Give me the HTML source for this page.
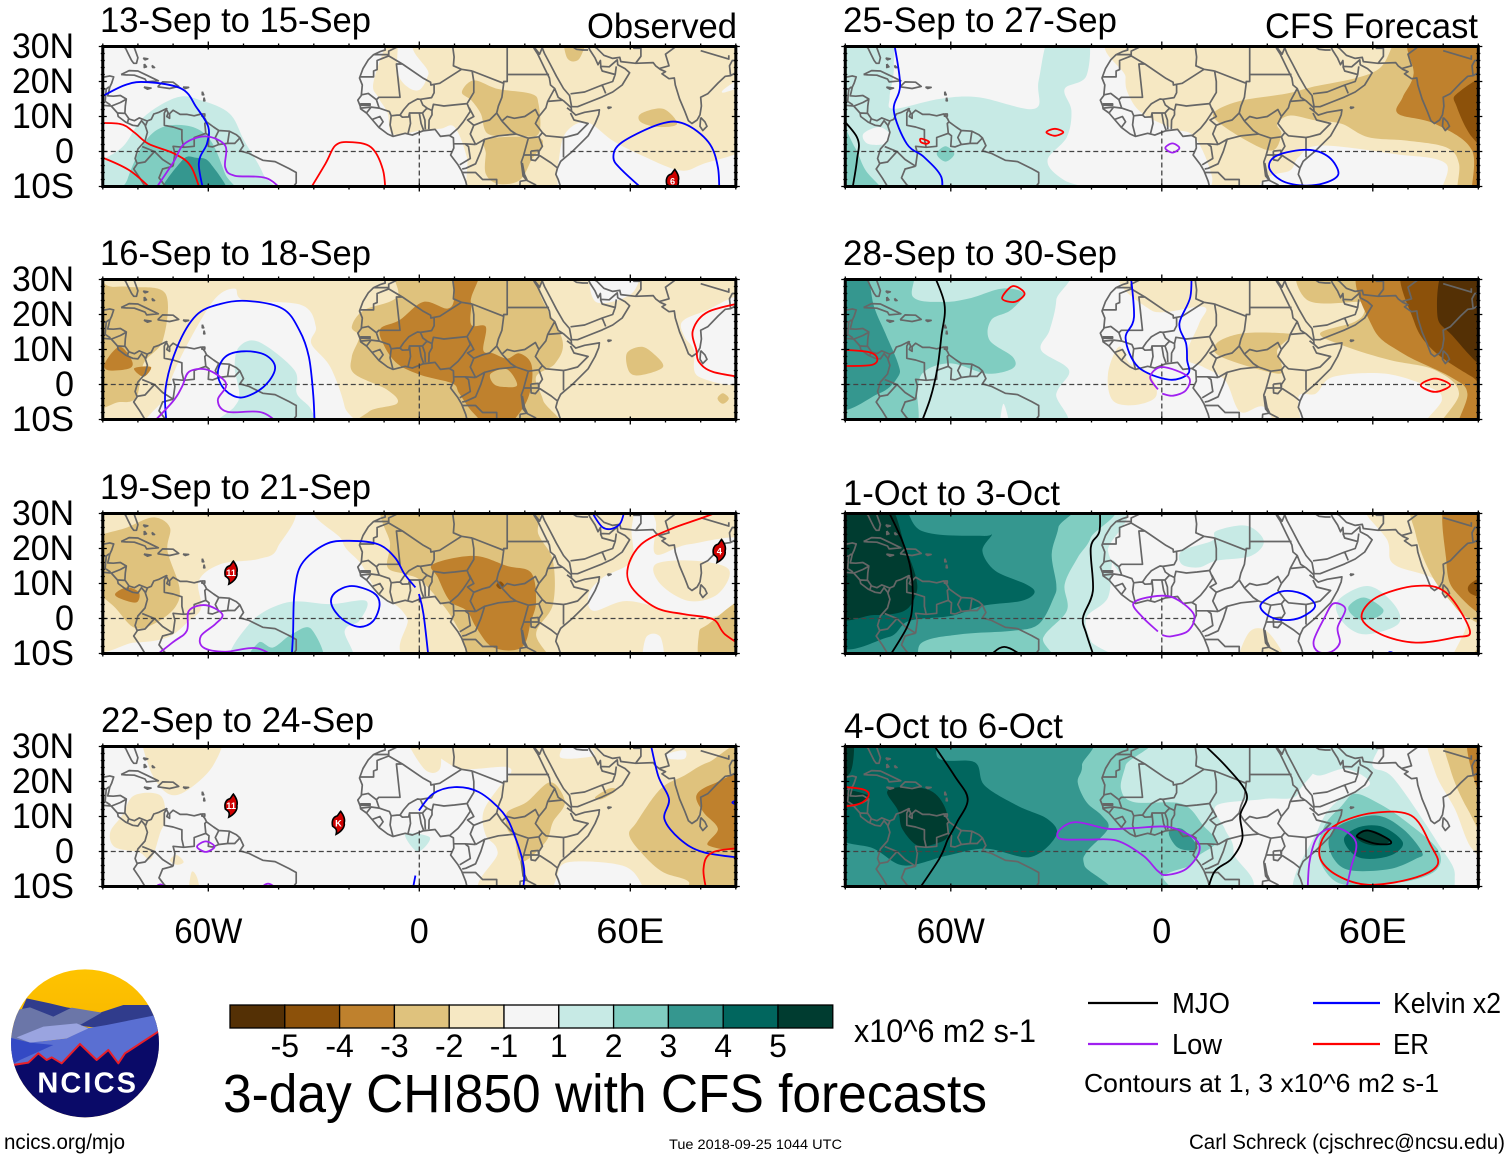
<!DOCTYPE html>
<html lang="en">
<head>
<meta charset="utf-8">
<title>3-day CHI850 with CFS forecasts</title>
<style>
html,body{margin:0;padding:0;background:#fff;width:1510px;height:1159px;overflow:hidden}
svg{display:block;position:absolute;left:0;top:0}
text{font-family:"Liberation Sans",sans-serif;fill:#000}
</style>
</head>
<body>
<svg id="chart" xmlns="http://www.w3.org/2000/svg" width="1510" height="1159" viewBox="0 0 1510 1159">
  <defs id="defs">
    <linearGradient id="sky" x1="0" y1="0" x2="0" y2="1"><stop offset="0" stop-color="#ffc400"/><stop offset="1" stop-color="#eda500"/></linearGradient>
    <clipPath id="logo-clip"><circle cx="255" cy="250" r="222"/></clipPath>
  </defs>

  <g id="panels"></g>

  <g font-size="35">
    <text x="100" y="32" textLength="271" lengthAdjust="spacingAndGlyphs">13-Sep to 15-Sep</text>
    <text x="100" y="265" textLength="271" lengthAdjust="spacingAndGlyphs">16-Sep to 18-Sep</text>
    <text x="100" y="499" textLength="271" lengthAdjust="spacingAndGlyphs">19-Sep to 21-Sep</text>
    <text x="101" y="732" textLength="273" lengthAdjust="spacingAndGlyphs">22-Sep to 24-Sep</text>
    <text x="843" y="32" textLength="274" lengthAdjust="spacingAndGlyphs">25-Sep to 27-Sep</text>
    <text x="843" y="265" textLength="274" lengthAdjust="spacingAndGlyphs">28-Sep to 30-Sep</text>
    <text x="843" y="505" textLength="217" lengthAdjust="spacingAndGlyphs">1-Oct to 3-Oct</text>
    <text x="844" y="738" textLength="219" lengthAdjust="spacingAndGlyphs">4-Oct to 6-Oct</text>
    <text x="587" y="38" textLength="150" lengthAdjust="spacingAndGlyphs">Observed</text>
    <text x="1265" y="38" textLength="213" lengthAdjust="spacingAndGlyphs">CFS Forecast</text>
  </g>

  <g id="colorbar"></g>
  <text x="854" y="1042" font-size="32" textLength="182" lengthAdjust="spacingAndGlyphs">x10^6 m2 s-1</text>
  <text x="223" y="1112" font-size="54" textLength="764" lengthAdjust="spacingAndGlyphs">3-day CHI850 with CFS forecasts</text>
  <text x="669" y="1149" font-size="14" textLength="173" lengthAdjust="spacingAndGlyphs">Tue 2018-09-25 1044 UTC</text>
  <text x="4" y="1149" font-size="21" textLength="121" lengthAdjust="spacingAndGlyphs">ncics.org/mjo</text>
  <text x="1189" y="1149" font-size="21" textLength="316" lengthAdjust="spacingAndGlyphs">Carl Schreck (cjschrec@ncsu.edu)</text>

  <g>
    <line x1="1088" x2="1158" y1="1003" y2="1003" stroke="#000" stroke-width="2.2"/>
    <text x="1172" y="1013" font-size="29" textLength="58" lengthAdjust="spacingAndGlyphs">MJO</text>
    <line x1="1088" x2="1158" y1="1044" y2="1044" stroke="#a020f0" stroke-width="2.2"/>
    <text x="1172" y="1054" font-size="29" textLength="50" lengthAdjust="spacingAndGlyphs">Low</text>
    <line x1="1313" x2="1380" y1="1003" y2="1003" stroke="#0000ff" stroke-width="2.2"/>
    <text x="1393" y="1013" font-size="29" textLength="108" lengthAdjust="spacingAndGlyphs">Kelvin x2</text>
    <line x1="1313" x2="1380" y1="1044" y2="1044" stroke="#ff0000" stroke-width="2.2"/>
    <text x="1393" y="1054" font-size="29" textLength="36" lengthAdjust="spacingAndGlyphs">ER</text>
    <text x="1084" y="1092" font-size="26" textLength="355" lengthAdjust="spacingAndGlyphs">Contours at 1, 3 x10^6 m2 s-1</text>
  </g>

  <g transform="translate(0,960) scale(0.3333)">
    <g clip-path="url(#logo-clip)">
      <rect x="20" y="20" width="480" height="460" fill="url(#sky)"/>
      <polygon points="80,115 150,130 200,142 300,158 370,135 450,135 480,220 260,200 60,160" fill="#303c8c"/>
      <polygon points="30,240 50,150 90,142 160,170 215,143 305,158 240,195 270,205 100,250" fill="#6b76a8"/>
      <polygon points="30,232 90,248 200,235 260,205 320,195 470,165 490,320 30,330" fill="#5a6fd2"/>
      <polygon points="50,232 130,200 230,190 265,205 200,235 90,248" fill="#9aa4e0"/>
      <polygon points="25,232 90,248 160,255 60,300 25,320" fill="#3349c4"/>
      <path d="M20,318 L85,308 L115,280 L140,300 L155,292 L185,310 L240,252 L290,300 L325,270 L355,310 L375,280 L490,205 L490,480 L20,480 Z" fill="#0a0a68" stroke="#e8202a" stroke-width="6" stroke-linejoin="round"/>
    </g>
    <text x="112" y="398" font-size="87" font-weight="bold" textLength="296" lengthAdjust="spacing" style="fill:#fff">NCICS</text>
  </g>
</svg>

<script>
// ---- colour scale (shading bins from -5 to 5) ----
const palette = ['#543005','#8c510a','#bf812d','#dfc27d','#f6e8c3','#f5f5f5','#c7eae5','#80cdc1','#35978f','#01665e','#003c30'];
const colorbarLabels = ['-5','-4','-3','-2','-1','1','2','3','4','5'];
const lonTicks = [-60,0,60];
const lonTickLabels = ['60W','0','60E'];
const latTicks = [30,20,10,0,-10];
const latTickLabels = ['30N','20N','10N','0','10S'];
const contourColors = {mjo:'#000000',kelvin:'#0000ff',low:'#a020f0',er:'#ff0000'};

// ---- map geometry, [lon, lat] ----
const coastlines = [
 [[-81.4,30.7],[-80.6,28.5],[-80,26.8],[-80.4,25.2],[-81.2,25.2],[-81.8,26],[-82.8,28],[-83.5,29.5],[-84.2,30.1],[-85.5,29.8],[-87,30.4]],
 [[-90,21.2],[-88,21.6],[-86.9,21.3],[-87.5,19.5],[-88,18.4],[-88.3,17],[-88.6,15.9],[-87,15.8],[-85,16],[-83.3,15],[-83.6,13],[-83.7,11],[-82.5,9.3],[-81,8.8],[-79.6,9.6],[-77.4,8.7],[-76.2,9.2],[-75.5,10.7],[-74,11.2],[-72,12.2],[-71.4,11],[-71.8,10],[-71,9.5],[-71,10.8],[-70,11.8],[-68,10.6],[-66,10.6],[-64,10.2],[-62,10.7],[-61,9.5],[-60.5,8.5],[-58.5,7],[-57,6],[-54,5.8],[-52,4.8],[-51,3.9],[-50,1.7],[-51,0.2],[-48.5,-0.5],[-44.5,-2.5],[-41,-2.9],[-37,-4.9],[-35,-6],[-35,-9],[-36.5,-11]],
 [[-90,13.2],[-87.6,13],[-85.8,11],[-85.6,10],[-83.5,8.4],[-81.5,7.5],[-80,7.3],[-79,8.8],[-78,7.6],[-77.3,5.5],[-78,3],[-80,0.7],[-80.8,-2],[-80.2,-3.5],[-81.2,-5],[-79.5,-7.5],[-78,-10],[-77,-12]],
 [[-84.8,22],[-82.5,23.1],[-80,23],[-77.5,21.8],[-74.2,20.2],[-77.5,19.9],[-78,20.7],[-81,21.8],[-83.5,21.9],[-84.8,22]],
 [[-74.4,18.5],[-73,19.9],[-70,19.8],[-68.4,18.6],[-71,18],[-74.4,18.5]],
 [[-78.3,18.4],[-76.3,18.1],[-77.3,17.8],[-78.3,18.4]],
 [[-67.2,18.4],[-65.6,18.3],[-66.5,18],[-67.2,18.4]],
 [[-78.5,26.7],[-77.2,26.5],[-78,26.2],[-78.5,26.7]],
 [[-78.2,25],[-77.6,24.2],[-78.2,24],[-78.2,25]],
 [[-76,24.6],[-75.3,24],[-75.8,24],[-76,24.6]],
 [[-61.7,17.1],[-61.3,16.2],[-61.7,16.2],[-61.7,17.1]],
 [[-61.2,15.4],[-61,14.5],[-61.3,14.5],[-61.2,15.4]],
 [[-61.8,10.7],[-61,10.7],[-61,10.1],[-61.8,10.1],[-61.8,10.7]],
 [[-9.8,30],[-9.7,29],[-11,28.6],[-13,27.7],[-14.5,26.2],[-16,23.7],[-17,21],[-16.2,19],[-16.5,16],[-17.5,14.7],[-16.8,13],[-16.7,12.2],[-15,11],[-13.3,9],[-11.5,6.9],[-9,5],[-7.5,4.3],[-4,5.2],[-2,4.7],[1,5.9],[4.5,6.3],[6,4.3],[8.5,4.6],[9.7,3.9],[9.8,1],[8.9,-1],[11,-3.8],[12,-5.5],[13.2,-8.5],[13.8,-11]],
 [[32.5,30.5],[32.6,29.5],[33.7,27.8],[35.5,24],[37,21],[37.3,19],[38.5,18],[39.5,15.5],[41,14.5],[43.2,12.5],[43.3,11.5],[44.5,10.4],[47,11.2],[51.2,11.9],[51,10.5],[50,8],[48,4.5],[46,2.5],[43.5,0],[41.5,-1.7],[40.2,-2.8],[39.3,-4.7],[38.8,-6.5],[39.5,-8],[40.5,-11]],
 [[32.6,29.9],[34.2,27.8],[34.9,29.5],[35,29.5],[35.6,28],[37.2,25],[39,21.5],[41,18],[42.7,16],[43.3,12.8],[45,12.8],[48,14],[52,15.6],[55,17],[57.7,19],[59.8,22.5],[58.5,23.7],[56.4,24.8],[56.3,26.2],[54,24.2],[51.6,24.3],[51.5,26],[50.8,24.8],[50,26.7],[48.5,29],[48,30.2],[49,30.3],[50.5,29.5],[52.5,27.5],[55,26.6],[57,26.9],[57.3,25.7],[61.5,25.2],[66.5,25.4],[67.2,24.5],[68.5,23.5],[70,22.8],[69,22.2],[71,20.8],[72.5,21],[72.8,19],[74,15],[75.5,11.5],[76.5,8.8],[77.5,8],[79,9],[79.8,10.5],[80.2,13],[80,15.5],[82,16.5],[85,19.6],[87,21.5],[88.5,21.7],[90,22.5],[91,23]],
 [[80,9.7],[81.2,8.5],[81.8,7.2],[80.6,6],[79.8,7.2],[80,9.7]],
 [[53.5,12.7],[54.5,12.6],[53.8,12.3],[53.5,12.7]],
 [[31.7,0.1],[33.8,0.3],[34,-1.4],[33,-2.6],[31.8,-2.4],[31.7,0.1]],
 [[29.3,-3.3],[29.7,-6.8],[30.7,-8.3],[29.9,-6.5],[29.3,-3.3]]
];
const borders = [
 [[-8.7,27.7],[-8.7,28.7],[-6,30],[-5,30.5]],
 [[-13,27.7],[-8.7,27.7],[-8.7,27.3],[-12,26],[-12,23.4],[-13,23],[-13,21.3],[-17,21.3]],
 [[-8.7,27.3],[-4.8,25],[-6.5,25],[-5.5,15.5],[-11.5,15.5],[-12.2,14.8],[-14.5,16.6],[-16.4,16.2]],
 [[-4.8,25],[1.2,20.9],[3.2,19.8],[3.3,19],[4.2,19.2],[5.8,19.5],[12,23.5]],
 [[9.5,30],[9.9,27],[9.7,24.5],[12,23.5],[15,23]],
 [[15,23],[15.5,20],[15.5,16.9],[13.6,13.7]],
 [[15,23],[24,19.5],[24,20],[25,20],[25,22],[25,31]],
 [[25,22],[36.9,22]],
 [[4.2,19.2],[4.2,16.8],[3.5,15.4],[0.3,14.9],[-0.5,15],[-2,14.2],[-3,13.6],[-4.4,12],[-5.5,10.4],[-4.8,9.8],[-3,9.9],[-2.8,11],[0,11],[0.9,11],[2.2,12.4],[1,13.3],[0.3,14.9]],
 [[-12.2,14.8],[-11.4,12.4],[-8.5,11.4],[-8,10.2],[-6.3,10.4],[-5.5,10.4]],
 [[-16.7,12.4],[-13.7,12.7],[-11.4,12.4]],
 [[-16.8,13.6],[-14,13.6],[-14,13.2],[-16.8,13.2]],
 [[-13.7,12.7],[-15,11]],
 [[-13.3,9.2],[-11.2,10],[-10.3,8.5],[-11.5,6.9]],
 [[-8,10.2],[-8.3,7.6],[-7.5,4.4]],
 [[-2.8,11],[-2.5,8],[-3.2,5.1]],
 [[0,11],[0.5,8],[1.2,6.1]],
 [[0.9,11],[1.6,9],[1.7,6.3]],
 [[2.7,6.4],[2.8,9],[3.6,10.5],[3.6,11.7],[2.2,12.4]],
 [[3.6,11.7],[4,13.5],[7,13],[10,13.3],[13.6,13.7]],
 [[13.6,13.7],[14.5,11.5],[12.5,8.5],[11,6.6],[8.8,4.7]],
 [[14.2,12.5],[15.5,10],[13.7,9],[15.5,7.5]],
 [[15.5,7.5],[18,8.5],[20,9],[22,11]],
 [[15.5,7.5],[14.5,5],[16,2]],
 [[24,19.5],[23.5,15.5],[22.5,13],[22,11],[23.5,8.7]],
 [[23.5,8.7],[26,6],[27.5,5]],
 [[18.6,3.5],[22.5,4.5],[27.5,5]],
 [[16,2],[18.6,3.5],[17.5,0],[16,-3.5],[13.2,-4.8],[12.2,-5]],
 [[9.8,2.2],[13,2.2],[16,2]],
 [[13,2.2],[14,1.4],[14.5,-2],[11.5,-3.8]],
 [[12.2,-6],[16,-6],[18,-8],[22,-8],[22,-11]],
 [[27.5,5],[31,3.8],[29.6,-1.3],[29,-3],[29.5,-7],[30.5,-8.2],[28.7,-8.5],[28.5,-11]],
 [[29.6,-1],[34,-1],[37.5,-3.3],[39.3,-4.7]],
 [[30.5,-8.2],[33,-9.5],[34.5,-11]],
 [[34,-1],[34,0],[35,1.5],[34,4.2],[31,3.8]],
 [[23.5,8.7],[25,10],[27,9.5],[30,10],[33,12],[34,10],[33,8],[35,5.4],[34,4.2]],
 [[34,10],[36,12.5],[36.5,14.3],[38.5,18]],
 [[36.5,14.3],[40.8,14.7]],
 [[35,5.4],[36,4.5],[41,4],[42,4.2]],
 [[41,4],[41,-1.7]],
 [[42,4.2],[45,5],[48,8],[44,9],[43,11]],
 [[42,12.5],[43.3,11.5]],
 [[48,29],[46.5,29],[44.7,29.2],[42,31]],
 [[43,16.5],[47,17],[52,19],[55,20],[55.7,22],[52,23],[51.5,24.3]],
 [[52,19],[53,16.6]],
 [[56,24.3],[55.7,22]],
 [[61.5,25.2],[63,27.2],[63,29.5],[61,29.5],[60.8,31]],
 [[60.8,29.8],[66.5,29.9],[68,31]],
 [[68.2,23.7],[71,24.5],[70,27.8],[73,30],[74,31]],
 [[80,28.8],[88,26.4],[88,27.5]],
 [[88.5,21.7],[88.2,24.5],[89,26],[91,26]],
 [[-90,17.8],[-89,17.9],[-88.2,18.5]],
 [[-89,17.9],[-89.2,15.9],[-89.3,14.3],[-87.8,13.3]],
 [[-87.5,13],[-85,14],[-83.2,15]],
 [[-85.7,11],[-83.7,10.9]],
 [[-83,8.2],[-82.6,9.6]],
 [[-77.9,7.2],[-77.3,8.7]],
 [[-71.7,12.4],[-72.5,11],[-72.5,7.5],[-70,7],[-67.5,6.2],[-67.5,3.5],[-67,1.2],[-70,1.5],[-69.5,-0.5],[-70,-4.2]],
 [[-78.8,1.4],[-75.3,0],[-73,-2.3],[-70,-4.2]],
 [[-80.3,-3.4],[-78,-3],[-75.3,0]],
 [[-70,-4.2],[-73,-5],[-74,-7.5],[-72.5,-9.5],[-70.5,-11]],
 [[-67,1.2],[-64,1.5],[-64,4],[-60.7,5.2],[-61,8],[-60.5,8.5]],
 [[-60.7,5.2],[-59.8,4.5],[-60,1.5],[-58.8,1.3],[-57,2],[-58,4],[-57,6]],
 [[-57,2],[-54.5,2.3],[-52.5,2.3],[-51,3.9]],
 [[-54.5,2.3],[-54,5.8]],
 [[-70.5,-11],[-66,-9.8],[-65,-11]]
];

// ---- Panel: 13-Sep to 15-Sep ----
const sep13Background = 5;
const sep13Shading = [
 [4,[[5.3,30],[2.6,22],[-0.8,17.4],[-6,22],[-6,30],[-8,30],[-13,20],[-11.7,15.5],[-9,11],[-7.6,5],[0.5,6],[6,6.5],[10,7],[13.5,-1.6],[15.5,-10],[37,-10],[39.3,-4.5],[41.4,5],[47.5,8.4],[55,3.1],[63,-1],[74,-5.4],[80.8,-3.5],[90,2.2],[90,17.4],[86,17],[90,24],[90,30]]],
 [3,[[12.1,17],[15.5,20.3],[22.3,17.9],[31.8,16.5],[33.9,13.6],[33.9,5],[27.8,4.6],[19.6,5],[17.5,10.8],[14.8,14.6]]],
 [3,[[19.6,3.6],[34.6,3.6],[31.8,-2.6],[28.4,-8.3],[22.3,-9.2],[18.9,-6.4],[18.9,-0.7]]],
 [3,[[63,10.8],[69.3,12.2],[73.3,7.9],[67.9,7],[63,8.4]]],
 [3,[[41.4,30],[47.5,30],[45.5,26.5],[42,26.8]]],
 [6,[[-90,-10],[-90,-5.4],[-84.5,1.2],[-78.4,9.8],[-68.8,15.5],[-62,14.6],[-53.9,10.8],[-49.8,3.1],[-44.4,-6.4],[-43,-10]]],
 [7,[[-83.8,-10],[-83,-8],[-78.4,2.2],[-72.9,7],[-64.8,7.1],[-59.3,3.1],[-55.2,-6.4],[-52.5,-10]]],
 [8,[[-73.6,-10],[-67.5,-2.6],[-63.4,-1.8],[-59.3,-3.5],[-54.6,-10]]]
];
const sep13Contours = [
 ['kelvin',false,[[-90,13.6],[-83.9,18.9],[-77.1,19.8],[-67.5,17.9],[-63.4,12.7],[-60,7],[-60.4,2.2],[-62.7,-3.5],[-60.7,-10]]],
 ['kelvin',false,[[66.5,-9.4],[57.7,-5.4],[55.2,-1.6],[57.7,2.7],[68.6,7.9],[75.4,7.9],[82.2,2.7],[84.9,-4.5],[85.3,-9.7]]],
 ['er',false,[[-90,8.1],[-85.2,7.9],[-81.1,5.5],[-77,2.2],[-69.5,-0.7],[-64.8,-4.5],[-61.4,-10]]],
 ['er',false,[[-90,-0.2],[-82.4,-5.4],[-72.9,-10]]],
 ['er',false,[[-32.8,-9.7],[-26.7,-3.5],[-23.9,1.7],[-19.9,2.7],[-13.7,1.2],[-10.3,-5.4],[-9.5,-10]]],
 ['low',false,[[-77,-9.7],[-70.2,-3.5],[-66.8,2.2],[-60.7,4.3],[-55.2,1.7],[-55.2,-4.5],[-52.5,-6.9],[-43,-7.8],[-36.9,-9.7]]]
];
const sep13Storms = [[72,-8.4,'6']];

// ---- Panel: 16-Sep to 18-Sep ----
const sep16Background = 4;
const sep16Shading = [
 [5,[[-75,-10],[-72.2,-3.5],[-69.5,4.1],[-64.8,13.6],[-58,24.6],[-52.5,27.4],[-49.8,24.1],[-33.5,22.7],[-29.4,16.5],[-30.7,11.7],[-25.3,5],[-21.2,-6.4],[-21.2,-10]]],
 [5,[[74.7,17.9],[80.8,20.8],[90,24.6],[90,1.7],[79.5,2.2],[78.1,9.8],[75.4,13.6]]],
 [5,[[49.5,29.3],[61.8,29.6],[60.4,26],[50.2,23.6]]],
 [3,[[-90,30],[-89,28.4],[-82.4,27.9],[-72.2,26],[-72.9,12.7],[-78.4,6],[-80.4,-3.5],[-85.2,-5],[-90,-3.5]]],
 [3,[[-4.2,30],[-6.3,25],[-15.8,21.2],[-19.2,16.5],[-17.1,13.6],[-19.2,7.9],[-18.5,3.1],[-9,-1.6],[-6.3,-5.4],[-14.4,-7.8],[-15.8,-10],[37.3,-10],[35.2,-4.5],[33.2,2.2],[38.6,6],[40.7,12.7],[34.6,25],[31.8,30]]],
 [3,[[59,8.9],[63.1,10.8],[66.5,8.9],[69.3,5],[63.1,2.7],[59.7,3.6]]],
 [3,[[86.3,-2.5],[88,-4],[86.3,-5.5],[84.8,-4]]],
 [2,[[10,30],[17.6,30],[14.8,25],[14.8,22.7],[14.8,17],[18.9,16.5],[18.2,9.8],[21,8.9],[25,7.4],[28.4,8.9],[31.8,6],[31.8,-0.7],[29.1,-7.3],[22.3,-9.7],[15.5,-8.3],[11.4,-2.6],[9.4,0.3],[0.5,2.7],[-6.3,6],[-10.3,11.7],[-11,16],[-5.6,18.4],[1.2,23.6],[8,21.7],[10,25]]],
 [3,[[20.3,3.1],[25,4.3],[27.8,-0.2],[23.7,-0.7],[21,0.3]]],
 [2,[[-89.2,6.5],[-85.2,10.8],[-81.8,7],[-82.4,4.6],[-88.6,4.1]]],
 [2,[[-81.1,4.6],[-76.3,5],[-78.4,2.2]]],
 [6,[[-51.2,10.8],[-45.7,12.2],[-35.5,4.1],[-34.8,-2.6],[-30.7,-7.3],[-30.7,-10],[-59.3,-10],[-52.6,-6.4],[-51.2,-2.6],[-52.5,5]]]
];
const sep16Contours = [
 ['kelvin',false,[[-71.6,-9.7],[-72.2,-1.6],[-68.8,10.8],[-63.4,19.8],[-56.6,23],[-49.1,23.9],[-38.9,21.7],[-34.1,15.5],[-31.4,7.9],[-30.1,-3.5],[-29.7,-9.7]]],
 ['kelvin',true,[[-49.8,9.5],[-43.7,8.4],[-41,4.6],[-44.3,-0.7],[-50.5,-3.7],[-55.2,-1.6],[-57.3,3.1],[-55.2,7.9]]],
 ['low',false,[[-78.4,-9.7],[-70.2,-5],[-67.5,-0.7],[-65.5,3.6],[-60.7,4.3],[-56,1.7],[-55,-0.7],[-57.3,-4.5],[-54.6,-7.8],[-44.4,-8.1],[-37.6,-9.7]]],
 ['er',false,[[90,23.8],[82.2,20.8],[77.8,15.5],[78.8,9.8],[79.5,6.5],[83.5,3.6],[90,1.7]]]
];
const sep16Storms = [];

// ---- Panel: 19-Sep to 21-Sep ----
const sep19Background = 5;
const sep19Shading = [
 [4,[[-90,30],[-38.9,30],[-40.3,20.3],[-45.7,17],[-56.6,15.5],[-62.7,10.8],[-62,3.1],[-65.5,-0.7],[-71.6,-5.4],[-81.1,-6.9],[-90,-6.4]]],
 [4,[[-21.2,30],[-21.9,22.2],[-16.5,15.5],[-11.7,7],[-8.3,5],[-3.5,0.3],[3.3,-10],[90,-10],[90,30]]],
 [5,[[62.8,30],[67.2,27.9],[67.2,18.4],[76.7,21.2],[90,22.2],[90,6],[82.2,0.3],[71.3,2.2],[59,5],[49.5,2.2],[48.2,7],[52.2,11.7],[60.4,16.5],[60.4,26]]],
 [4,[[67.2,15.5],[78.1,16.5],[88,14],[84.9,7],[76.7,5],[68.6,9.8]]],
 [5,[[64.5,-5.4],[68.6,-5.4],[69.3,-10],[63.8,-10]]],
 [3,[[-75.6,28.9],[-70.9,26],[-71.6,19.3],[-68.2,8.9],[-69.5,3.1],[-75.6,-1.6],[-81.1,-2.6],[-86.5,3.1],[-90,10.8],[-90,21.7],[-83.1,26]]],
 [2,[[-86.5,7],[-83.1,8.9],[-79.7,7.4],[-80.4,4.6],[-84.5,5.5]]],
 [3,[[-8.3,30],[30.5,30],[33.9,24],[38,16.5],[38,4],[33.2,-4.5],[37.3,-10],[16.9,-10],[11.4,-3.5],[7.3,3.1],[0.5,10.8],[-4.2,12.7],[-9,14.6],[-8.3,21.2]]],
 [2,[[3.9,15.5],[15.5,17.9],[25,15],[31.8,13.1],[33.2,5],[31.8,-0.7],[29.1,-8.3],[21,-8.3],[16.2,-2.6],[13.5,2.2],[8.7,5],[5.3,11.7]]],
 [1,[[23,10.6],[24.1,9.5],[23,8.4],[21.9,9.5]]],
 [3,[[90,5.5],[82.2,-1.6],[79.5,-4.5],[80.8,-10],[90,-10]]],
 [6,[[-52.5,-10],[-48.4,-1.6],[-37.6,4.6],[-25.3,4.1],[-15.1,5],[-17.1,-0.7],[-21.2,-3.5],[-20.5,-10]]],
 [7,[[-48.4,-10],[-45.7,-6.9],[-41.6,-8.3],[-36.3,-4.5],[-30.7,-3],[-28,-10]]]
];
const sep19Contours = [
 ['kelvin',false,[[-36.5,-10],[-35.9,-4.5],[-35.5,7],[-33.5,15.5],[-26.7,21.2],[-19.9,22.2],[-11.7,21.2],[-6.9,17.4],[-4.2,12.7],[-1.1,8.9]]],
 ['kelvin',false,[[-0.1,7],[1.2,1.2],[2.9,-9.7]]],
 ['kelvin',true,[[-19.2,9.3],[-13.1,7.4],[-11.3,4.1],[-13.1,-0.7],[-17.1,-2.4],[-21.9,-0.2],[-25,4.1],[-23.9,7.4]]],
 ['kelvin',false,[[47.5,29.3],[52.2,26],[57,27],[58.8,29.3]]],
 ['low',false,[[-78.6,-9.5],[-70.2,-6.9],[-66.1,-3.5],[-65.5,2.2],[-60.7,3.8],[-56,1.2],[-58,-1.6],[-62.1,-5],[-61.4,-8.3],[-55.2,-9.5],[-45.7,-8.6],[-37.6,-9.7]]],
 ['er',false,[[90,29.8],[80.8,28.9],[71.3,25.5],[63.1,21.2],[59.3,14.6],[60.4,8.9],[67.2,3.1],[75.4,1.2],[83.5,-0.2],[86.9,-4.5],[90,-9.2]]]
];
const sep19Storms = [[-53.5,13.1,'11'],[85.3,19.3,'4']];

// ---- Panel: 22-Sep to 24-Sep ----
const sep22Background = 5;
const sep22Shading = [
 [4,[[-77,30],[-57.3,30],[-58.6,24.6],[-66.8,17],[-72.2,17],[-77,24.6]]],
 [4,[[-84.5,10.3],[-81.1,16],[-73.6,16],[-72.2,9.3],[-73.6,5.5],[-76.3,-2.1],[-79.7,-0.2],[-86.5,1.2],[-87.9,5.5]]],
 [4,[[-70.9,-2.5],[-69,-1],[-67,-3],[-69,-3.8]]],
 [4,[[-65.5,-10],[-64.8,-6],[-63,-8],[-62.5,-10]]],
 [4,[[-4,30],[4.5,30],[6,24],[1.5,23.5]]],
 [4,[[9.4,30],[90,30],[90,-10],[21.6,-10],[22.3,-0.2],[18.9,4.6],[18.2,11.2],[22.3,17.9],[25,20.8],[25,24.1],[10,24.1]]],
 [5,[[39.3,-6.9],[42.7,-3],[57.7,-4],[63.1,-9.2],[63,-10],[40,-10]]],
 [5,[[40,27],[44,29],[49.5,28.4],[48.2,27]]],
 [5,[[70.6,27.9],[75.4,28.9],[75.4,26.5],[71,26.5]]],
 [3,[[90,28.4],[82.2,25.5],[75.4,21.7],[68.6,17.9],[61.8,8.4],[59.7,4.6],[63.8,-1.1],[69.3,-5.9],[76.7,-8.8],[74,-10],[90,-10]]],
 [2,[[90,21.7],[83.5,19.3],[78.8,16],[80.8,11.2],[84.9,6.5],[82.2,1.7],[90,2.2]]],
 [3,[[25,11.2],[30.5,14.1],[37.3,19.8],[41.4,14.1],[38,8.4],[35.9,2.7],[29.1,-3],[27.1,3.6],[25,6.5]]],
 [3,[[50,15.5],[54,18],[56,17.5],[52,15]]],
 [6,[[-4,5],[3,4],[-0.5,0]]]
];
const sep22Contours = [
 ['kelvin',false,[[-2.4,-9.5],[-1.1,-6.9]]],
 ['kelvin',false,[[-0.1,11.7],[3.9,16.5],[10,18.4],[16.9,17],[23.7,11.2],[27.1,4.6],[29.8,-5],[29.1,-9.7]]],
 ['kelvin',false,[[65.2,29.6],[67.9,21.7],[71,15],[69.7,9.3],[74,3.6],[80.8,-0.2],[90,-2.1]]],
 ['kelvin',false,[[90,15.5],[89,14],[90,12.5]]],
 ['er',false,[[82.2,-9.7],[80.8,-5],[83.5,-0.2],[90,1.2]]],
 ['low',true,[[-60.7,2.9],[-58.2,1.4],[-60.7,-0.1],[-63.2,1.4]]],
 ['low',false,[[-78.4,-10],[-73.6,-9.4],[-69.5,-10]]],
 ['low',false,[[-47.8,-10],[-43,-9.2],[-37.6,-10]]]
];
const sep22Storms = [[-53.5,13.1,'11'],[-23,8.2,'K']];

// ---- Panel: 25-Sep to 27-Sep ----
const sep25Background = 5;
const sep25Shading = [
 [6,[[-90,30],[-78,30],[-76.2,24.1],[-77.4,15.5],[-76.2,12.2],[-63.3,15],[-52.2,15.5],[-36.2,12.2],[-35,20.3],[-31.3,30],[-21.4,30],[-21.4,21.7],[-27.6,17.9],[-25.7,11.7],[-27,4.1],[-32.5,-2.6],[-27.6,-8.3],[-15.3,-10],[-90,-10]]],
 [5,[[-84.9,5],[-80.5,7],[-77.4,5],[-78.7,2.2],[-83.6,2.2]]],
 [7,[[-90,11.7],[-87.3,1.2],[-84.2,-5.4],[-78,-10],[-90,-10]]],
 [7,[[-61.5,1.5],[-59,-0.7],[-61.5,-2.9],[-64,-0.7]]],
 [4,[[-7.9,30],[-10.3,21.2],[-9.1,15.5],[-5.4,10.8],[3.2,6.5],[9.4,4.1],[14.3,-7.3],[13,-10],[22.3,-10],[30.3,-7.3],[36.5,-5.4],[38.9,-1.6],[45,1.7],[66,-0.7],[80.8,-3.5],[79.6,-10],[90,-10],[90,30]]],
 [3,[[15.5,11.7],[22.9,14.6],[35.2,16.5],[42.6,18.4],[61,23.1],[69.7,30],[90,30],[90,-10],[84.5,-10],[84.5,-3.5],[80.8,1.2],[69.7,3.1],[58.6,4.1],[51.2,7.9],[43.8,8.9],[36.5,10.3],[32.8,7.9],[34,5],[31.5,0.3],[24.1,3.1],[15.5,8.9]]],
 [2,[[70.9,30],[90,30],[90,-10],[88.2,-10],[88.2,0.3],[77.7,7.9],[67.2,10.8],[68.5,15.5],[71.6,22.2]]],
 [1,[[90,20.8],[83.9,16.5],[83.9,12.7],[88.2,4.1],[90,1.2]]]
];
const sep25Contours = [
 ['mjo',false,[[-89.7,12.2],[-86.7,4.1],[-86.7,-2.6],[-88.5,-9.7]]],
 ['kelvin',false,[[-76.6,29.6],[-74.4,19.3],[-76.2,11.7],[-72.5,2.2],[-67.6,-1.6],[-62.7,-7.3],[-62.9,-9.7]]],
 ['er',true,[[-68.5,3.7],[-66.2,2.8],[-67,2.2],[-68.5,2.7]]],
 ['er',true,[[-30.4,6.5],[-28,5.5],[-30.4,4.5],[-32.8,5.5]]],
 ['low',true,[[3,2.3],[5,1],[3,-0.3],[1,1]]],
 ['kelvin',true,[[41.4,0.5],[47.5,-1.6],[50.2,-6.4],[46.3,-9],[40.1,-9.7],[34,-8.3],[30.5,-4.5],[32.8,-1.1]]]
];
const sep25Storms = [];

// ---- Panel: 28-Sep to 30-Sep ----
const sep28Background = 5;
const sep28Shading = [
 [6,[[-90,30],[-30.7,30],[-30,24.1],[-31.9,15.5],[-34.3,9.8],[-26.4,4.1],[-30,-2.6],[-31.3,-10],[-90,-10]]],
 [5,[[-46,-10],[-45,-5.5],[-43,-10]]],
 [7,[[-90,30],[-71.9,30],[-70.7,25],[-62,23.6],[-54.7,24.6],[-45.4,27.4],[-39.3,26],[-43,21.2],[-48.5,18.4],[-49,12.7],[-42.4,7.9],[-42.4,4.6],[-49.8,3.1],[-59.6,6],[-67,4.1],[-69.5,-0.7],[-71.3,-10],[-90,-10]]],
 [8,[[-90,30],[-84.9,30],[-81.8,22.2],[-78.6,14.6],[-75,6],[-75,2.2],[-80.5,-2.6],[-90,-5]]],
 [4,[[-4.8,30],[-3,21.2],[11.8,22.2],[10.6,17.4],[6.9,7.9],[11.8,5],[18,1.2],[22.3,-7.8],[29,-6.4],[34,-10],[39.5,-10],[38.9,-3.5],[43.8,-2.6],[48.8,2.2],[63.5,3.1],[75.9,-0.7],[79.6,-4.5],[74,-10],[90,-10],[90,30]]],
 [4,[[-12.2,10.8],[-15.3,3.1],[-14,-4.5],[-7.9,-5.9],[-1.7,-3.5],[-3,2.2],[-9.1,6]]],
 [3,[[22.9,14.6],[15.5,11.7],[16.9,7.9],[32.8,3.1],[34,6],[32.8,9.8],[36.5,13.6],[35.2,14.6]]],
 [3,[[39.5,30],[41.4,24.1],[55,23.6],[60,25],[60,30]]],
 [3,[[60,30],[58,22],[55,18],[45,14.6],[52.5,10.8],[64.8,7],[77.7,4.1],[84.5,-2.6],[78.3,-10],[90,-10],[90,30]]],
 [2,[[57.4,30],[59.9,16.5],[68.5,8.9],[82,2.2],[86.9,-2.6],[83.9,-10],[90,-10],[90,30]]],
 [1,[[69.1,30],[71.6,18.4],[77.1,9.8],[88.2,2.2],[90,-0.7],[90,30]]],
 [0,[[80.8,30],[78.3,20.3],[82,14.6],[90,5],[90,30]]]
];
const sep28Contours = [
 ['mjo',false,[[-65.8,29.6],[-61.8,23.1],[-62.7,13.6],[-63.9,4.1],[-66,-4.5],[-69.5,-9.7]]],
 ['er',true,[[-42.4,28.1],[-39,26],[-41.8,23.6],[-45.4,24.6]]],
 ['er',false,[[-89.7,10.1],[-83.6,9.3],[-80.9,7.4],[-83,5.5],[-89.7,5.3]]],
 ['er',true,[[77.7,1.7],[82,-0.2],[77.7,-2.1],[73.6,-0.2]]],
 ['kelvin',false,[[-9.1,29.6],[-7.9,19.3],[-10.3,13.1],[-6.7,5],[2,1.4],[7.5,3.1],[7.2,7],[6.9,11.7],[5,17.4],[8.1,25],[8.4,29.6]]],
 ['low',false,[[-1.1,-1.4],[-3.3,2.2],[0.1,5],[7.5,2.2],[6.9,-1.6],[3.2,-3.2],[0.1,-2.6]]]
];
const sep28Storms = [];

// ---- Panel: 1-Oct to 3-Oct ----
const oct1Background = 5;
const oct1Shading = [
 [6,[[-90,30],[-15.3,30],[-15.3,19.3],[-11.6,12.7],[-14,16.5],[-15.3,6],[-21.4,0.3],[-20.2,-6.4],[-16.5,-10],[-90,-10]]],
 [7,[[-90,30],[-17.7,30],[-20.2,23.1],[-23.9,17.4],[-27.6,9.8],[-27,2.2],[-33.7,-5.4],[-35,-10],[-90,-10]]],
 [8,[[-90,30],[-28.8,30],[-29.4,26],[-31.3,18.4],[-30,9.8],[-30.7,6],[-35,-1.6],[-42.4,-3.5],[-57.1,-4.5],[-68.2,-6.9],[-71.9,-10],[-90,-10]]],
 [9,[[-90,30],[-75.6,30],[-68.2,25],[-51,23.6],[-48.3,24],[-51,19.3],[-47.3,13.6],[-38.6,9.8],[-36.2,7.4],[-40,5],[-51,3.6],[-59.6,0.8],[-71.9,-0.7],[-78,-5.4],[-90,-5.9]]],
 [10,[[-90,30],[-78.7,30],[-72.9,20.3],[-69.9,11.7],[-69.9,7],[-73.2,2.2],[-81.8,1],[-90,2.2]]],
 [6,[[15.5,25],[24.1,26.5],[29,22.2],[25.4,17.9],[15.5,16.5],[10.6,14.6],[5.7,15.5],[5.7,19.3],[14.3,22.2]]],
 [6,[[50,5],[58.6,9.3],[66,4.1],[67.2,-1.6],[57.4,-4.5],[51.2,-0.7]]],
 [7,[[53,3.1],[57.4,6],[62.9,2.7],[61,0.3],[56,-0.2]]],
 [4,[[58.6,30],[64.2,22.2],[66,15.5],[78.3,10.8],[86.9,0.3],[82,-10],[90,-10],[90,30]]],
 [4,[[22.3,-10],[24.8,-4],[30.3,-4],[35.2,-10]]],
 [3,[[72.2,30],[72.2,24.1],[76.5,12.7],[82,5],[86.9,0.3],[90,1],[90,30]]],
 [3,[[85.7,-10],[90,-5.4],[90,-10]]],
 [2,[[80.8,30],[80.8,17.4],[83.3,7.9],[90,2.2],[90,30]]],
 [1,[[90,12.7],[87.6,9.8],[88,7],[90,6]]],
 [1,[[80,30],[90,28.5],[90,30]]]
];
const oct1Contours = [
 ['mjo',false,[[-79.3,29.8],[-73.8,22.2],[-71.3,13.6],[-70.9,4.1],[-72.5,-2.6],[-79.3,-9.7]]],
 ['mjo',false,[[-17.7,29.8],[-17.7,25],[-20.2,20.3],[-19.6,7.9],[-22.4,0.3],[-21.4,-4.5],[-18.4,-9.5]]],
 ['mjo',false,[[-51.6,-10],[-44.8,-8.1],[-35.6,-10]]],
 ['low',false,[[-1.1,-3.7],[-5.4,0.3],[-8.1,4.3],[-3,6.2],[3.2,6],[9.1,1.2],[7.5,-3.5],[2.6,-5.1],[0.1,-4.7]]],
 ['kelvin',true,[[34,7.7],[40.1,7],[43.6,3.6],[39.5,0.3],[34,-0.4],[29.7,1.2],[28.2,4.1]]],
 ['low',true,[[48.8,4.3],[52.2,2.7],[50,-2.6],[50.6,-6.9],[48.2,-9.5],[44.5,-9.5],[43.2,-6.4],[46.3,0.3]]],
 ['er',true,[[72.2,9.3],[80.8,7.4],[87.6,-3.5],[83.3,-5.4],[72.2,-6.9],[62.3,-4.5],[56.8,0.3],[61,6]]],
 ['kelvin',false,[[60.5,-10],[65,-9.6],[69.7,-10]]]
];
const oct1Storms = [];

// ---- Panel: 4-Oct to 6-Oct ----
const oct4Background = 5;
const oct4Shading = [
 [6,[[-90,30],[34,30],[38.9,17],[29,15],[15.5,13.1],[17.9,6.5],[20.4,-0.2],[16.7,-10],[-90,-10]]],
 [7,[[-90,30],[-7.9,30],[-10.3,24.6],[-11.6,17.9],[-7.9,14.1],[5.7,13.6],[11.8,7.4],[15.5,2.7],[10.6,-1.1],[8.1,-4],[0.7,-6.9],[-5.4,-10],[-90,-10]]],
 [8,[[-90,30],[-25.1,30],[-22.7,24.6],[-23.9,19.8],[-21.4,14.1],[-17.1,10.3],[-15.3,6.5],[-21.4,-0.2],[-22,-4],[-18.3,-10],[-90,-10]]],
 [9,[[-90,30],[-67,30],[-63.3,26.5],[-53.2,25.5],[-50.4,18.9],[-41.1,13.1],[-32.5,9.3],[-30,4.6],[-37.4,-1.6],[-49.8,0.8],[-60.8,-1.1],[-73.2,-4],[-81.8,0.8],[-90,6.5]]],
 [10,[[-78.1,17],[-73.8,18.4],[-65.8,17.4],[-61.5,12.2],[-60.8,4.6],[-64.4,2.2],[-69.5,1.7],[-73.8,6.5],[-75,11.7]]],
 [10,[[-90,30],[-88,30],[-88.5,22.7],[-90,21.5]]],
 [10,[[-90,18],[-83.5,16],[-88,13],[-90,13]]],
 [8,[[2,5.5],[5.7,6.5],[10,1.7],[8.7,0.3],[4.4,1.2]]],
 [6,[[41.4,27],[45,30],[62.3,30],[59.9,24.6],[66,20.8],[78.3,2.7],[83.3,-6.9],[77.1,-10],[38.9,-10],[44.5,6.5],[50.6,15],[59.2,19.3],[52.5,23.6],[44.5,21.7],[40.8,24.6]]],
 [7,[[54.9,16.5],[61,14.1],[68.5,9.3],[78.3,0.8],[78.3,-5],[70.9,-8.3],[59.9,-9.2],[49.8,-8.8],[44.5,-1.1],[46.3,7.4],[51.2,13.1]]],
 [8,[[47.5,3.6],[51.2,7.9],[61,10.3],[68.5,6.5],[74,-0.2],[72.2,-2.1],[64.8,-5],[53.7,-5.4],[48.9,-2.1]]],
 [9,[[51.8,3.6],[56.2,7],[62.9,7],[68.5,2.7],[66,-0.7],[59.9,-2.1],[54.9,-1.1]]],
 [10,[[55.5,4.6],[59.9,6],[64.8,3.1],[61,1.7],[56.8,2.7]]],
 [4,[[76.5,30],[77.7,22.7],[83.3,12.2],[88.2,0.8],[90,0.3],[90,30]]],
 [3,[[80.8,30],[82,23.6],[86.9,12.2],[90,2.7],[90,30]]],
 [2,[[87,30],[88.2,22.7],[90,9.3],[90,30]]]
];
const oct4Contours = [
 ['mjo',false,[[-67,29.6],[-59,21.7],[-55.2,15],[-58.2,8.4],[-60.8,3.6],[-63.3,-2.1],[-70.9,-9.5]]],
 ['mjo',false,[[8.7,29.6],[18,24.6],[24.1,16.5],[22.3,10.3],[22.9,3.6],[19.8,-2.1],[14.9,-5.9],[12.4,-9.5]]],
 ['mjo',true,[[55.5,4.6],[58.7,6],[64.3,3.6],[64.9,2.2],[61,2.2],[56.8,3.6]]],
 ['er',true,[[59.9,11],[70.9,10.3],[76.5,1.7],[78.3,-4],[70.9,-7.8],[58.6,-9.5],[50,-6.9],[45.1,-2.1],[45.7,3.6],[50,7.9]]],
 ['er',false,[[-89.7,18.7],[-85.5,17.9],[-83.3,16.2],[-86.1,13.6],[-89.7,12.4]]],
 ['low',false,[[41.4,-9.5],[42,-3],[44.5,4.6],[50,6.7],[55.2,2.7],[53.7,-5],[51.8,-9.5]]],
 ['low',true,[[-1.1,-5.6],[-5.4,-1.1],[-12.8,3.1],[-21.4,3.4],[-28.8,3.6],[-29.2,6],[-24.5,8.4],[-15.3,6.5],[-7.9,6.7],[2,7],[9.4,3.6],[10.6,-0.2],[6.9,-5],[1.4,-6.7]]]
];
const oct4Storms = [];

// ---- panel assembly ----
const SVG_NS = 'http://www.w3.org/2000/svg';
const panelSpecs = [
 {id:'13-sep',col:0,row:0,bg:sep13Background,fills:sep13Shading,lines:sep13Contours,storms:sep13Storms},
 {id:'16-sep',col:0,row:1,bg:sep16Background,fills:sep16Shading,lines:sep16Contours,storms:sep16Storms},
 {id:'19-sep',col:0,row:2,bg:sep19Background,fills:sep19Shading,lines:sep19Contours,storms:sep19Storms},
 {id:'22-sep',col:0,row:3,bg:sep22Background,fills:sep22Shading,lines:sep22Contours,storms:sep22Storms},
 {id:'25-sep',col:1,row:0,bg:sep25Background,fills:sep25Shading,lines:sep25Contours,storms:sep25Storms},
 {id:'28-sep',col:1,row:1,bg:sep28Background,fills:sep28Shading,lines:sep28Contours,storms:sep28Storms},
 {id:'1-oct',col:1,row:2,bg:oct1Background,fills:oct1Shading,lines:oct1Contours,storms:oct1Storms},
 {id:'4-oct',col:1,row:3,bg:oct4Background,fills:oct4Shading,lines:oct4Contours,storms:oct4Storms}
];
const rowTops = [46.5,279.5,513.5,746.5];
const colCenters = [419.3,1161.8];
const PX_LON = 3.517, PX_LAT = 3.5;

function makeEl(tag, attrs){
  const el = document.createElementNS(SVG_NS, tag);
  for (const k in attrs) el.setAttribute(k, attrs[k]);
  return el;
}
function overshoot(p){
  let lon = p[0], lat = p[1];
  if (lon <= -89.5) lon -= 4;
  if (lon >= 89.5) lon += 4;
  if (lat >= 29) lat += 4;
  if (lat <= -9.3) lat -= 4;
  return [lon, lat];
}
function splinePath(pts, closed){
  const n = pts.length;
  const at = function(i){ return closed ? pts[(i + n) % n] : pts[Math.max(0, Math.min(n - 1, i))]; };
  let d = 'M' + pts[0][0].toFixed(1) + ',' + pts[0][1].toFixed(1);
  const last = closed ? n : n - 1;
  for (let i = 0; i < last; i++) {
    const p0 = at(i - 1), p1 = at(i), p2 = at(i + 1), p3 = at(i + 2);
    const c1x = p1[0] + (p2[0] - p0[0]) / 6, c1y = p1[1] + (p2[1] - p0[1]) / 6;
    const c2x = p2[0] - (p3[0] - p1[0]) / 6, c2y = p2[1] - (p3[1] - p1[1]) / 6;
    d += 'C' + c1x.toFixed(1) + ',' + c1y.toFixed(1) + ' ' + c2x.toFixed(1) + ',' + c2y.toFixed(1) + ' ' + p2[0].toFixed(1) + ',' + p2[1].toFixed(1);
  }
  return closed ? d + 'Z' : d;
}

const panelsRoot = document.getElementById('panels');
const defsRoot = document.getElementById('defs');

panelSpecs.forEach(function(spec, index){
  const top = rowTops[spec.row];
  const cx = colCenters[spec.col];
  const xScale = function(lon){ return cx + lon * PX_LON; };
  const yScale = function(lat){ return top + (30 - lat) * PX_LAT; };
  const project = function(p){ return [xScale(p[0]), yScale(p[1])]; };
  const left = xScale(-90), right = xScale(90), bottom = yScale(-10);

  const g = makeEl('g', {});
  
  
  panelsRoot.appendChild(g);

  const clip = makeEl('clipPath', {id:'clip-' + index});
  clip.appendChild(makeEl('rect', {x:left, y:top, width:right - left, height:bottom - top}));
  defsRoot.appendChild(clip);

  const plot = makeEl('g', {'clip-path':'url(#clip-' + index + ')'});
  
  
  g.appendChild(plot);

  const bg = makeEl('rect', {x:left, y:top, width:right - left, height:bottom - top, fill:palette[spec.bg]});
  
  
  plot.appendChild(bg);

  spec.fills.forEach(function(item){
    const pts = item[1].map(overshoot).map(project);
    const el = makeEl('path', {d:splinePath(pts, true), fill:palette[item[0]]});
    
    
    plot.appendChild(el);
  });

  let mapD = '';
  coastlines.concat(borders).forEach(function(line){
    line.map(project).forEach(function(p, i){
      mapD += (i ? 'L' : 'M') + p[0].toFixed(1) + ',' + p[1].toFixed(1);
    });
  });
  const mapEl = makeEl('path', {d:mapD, fill:'none', stroke:'#666666', 'stroke-width':'1.7', 'stroke-linejoin':'round'});
  
  
  plot.appendChild(mapEl);

  const refD = 'M' + xScale(-90) + ',' + yScale(0) + 'L' + xScale(9.5) + ',' + yScale(0) +
               'M' + xScale(43) + ',' + yScale(0) + 'L' + xScale(90) + ',' + yScale(0) +
               'M' + xScale(0) + ',' + yScale(6) + 'L' + xScale(0) + ',' + yScale(-10);
  const refEl = makeEl('path', {d:refD, fill:'none', stroke:'#444444', 'stroke-width':'1.3', 'stroke-dasharray':'5 3'});
  
  
  plot.appendChild(refEl);

  spec.lines.forEach(function(item){
    const closed = item[1];
    let raw = item[2];
    if (!closed) {
      raw = raw.map(function(p, i){ return (i === 0 || i === raw.length - 1) ? overshoot(p) : p; });
    }
    const el = makeEl('path', {d:splinePath(raw.map(project), closed), fill:'none', stroke:contourColors[item[0]], 'stroke-width':'1.8'});
    
    
    plot.appendChild(el);
  });

  spec.storms.forEach(function(item){
    const p = project(item);
    const sg = makeEl('g', {transform:'translate(' + p[0].toFixed(1) + ',' + p[1].toFixed(1) + ') scale(1.15)'});
    
    
    const shape = makeEl('path', {d:'M2,-10C5,-6 6,-3 5,0C6,4 2,8 -2,10C-1,6 -2,5 -5,3C-6,-1 -5,-5 -1,-6C0,-7 1,-9 2,-10Z', fill:'#d00000', stroke:'#000', 'stroke-width':'1.4'});
    
    
    sg.appendChild(shape);
    const label = makeEl('text', {x:0, y:3, 'font-size':'8', 'font-weight':'bold', 'text-anchor':'middle', style:'fill:#fff'});
    label.textContent = item[2];
    
    
    sg.appendChild(label);
    plot.appendChild(sg);
  });

  let tickD = '';
  for (let lon = -90; lon <= 90; lon += 10) {
    const major = lonTicks.indexOf(lon) >= 0;
    const x = xScale(lon).toFixed(1);
    const len = major ? 5 : 3;
    tickD += 'M' + x + ',' + (top - len) + 'L' + x + ',' + (top + (major ? 3 : 0));
    tickD += 'M' + x + ',' + (bottom + len) + 'L' + x + ',' + (bottom - (major ? 3 : 0));
  }
  for (let lat = -10; lat <= 30; lat += 2) {
    const major = lat % 10 === 0;
    const y = yScale(lat).toFixed(1);
    const len = major ? 4 : 2;
    tickD += 'M' + (left - len) + ',' + y + 'L' + (left + len) + ',' + y;
    tickD += 'M' + (right - len) + ',' + y + 'L' + (right + len) + ',' + y;
  }
  const ticks = makeEl('path', {d:tickD, fill:'none', stroke:'#000', 'stroke-width':'1.3'});
  
  
  g.appendChild(ticks);

  const frame = makeEl('rect', {x:left, y:top, width:right - left, height:bottom - top, fill:'none', stroke:'#000', 'stroke-width':'3'});
  
  
  g.appendChild(frame);

  if (spec.col === 0) {
    latTicks.forEach(function(lat, i){
      const t = makeEl('text', {x:74, y:(yScale(lat) + 11.5).toFixed(1), 'font-size':'35', 'text-anchor':'end', textLength:(latTickLabels[i].length > 1 ? 62 : 19), lengthAdjust:'spacingAndGlyphs'});
      t.textContent = latTickLabels[i];
      
      
      g.appendChild(t);
    });
  }
  if (spec.row === 3) {
    lonTicks.forEach(function(lon, i){
      const t = makeEl('text', {x:xScale(lon).toFixed(1), y:943, 'font-size':'35', 'text-anchor':'middle', textLength:(lonTickLabels[i].length > 1 ? 68 : 19), lengthAdjust:'spacingAndGlyphs'});
      t.textContent = lonTickLabels[i];
      
      
      g.appendChild(t);
    });
  }
});

// ---- colour bar ----
const colorbarRoot = document.getElementById('colorbar');
const cbLeft = 230, cbTop = 1005, cbHeight = 23, cbStep = 54.8;
palette.forEach(function(color, i){
  const box = makeEl('rect', {x:cbLeft + i * cbStep, y:cbTop, width:cbStep, height:cbHeight, fill:color, stroke:'#000', 'stroke-width':'1.3'});
  
  
  colorbarRoot.appendChild(box);
});
colorbarLabels.forEach(function(label, i){
  const t = makeEl('text', {x:(cbLeft + (i + 1) * cbStep).toFixed(1), y:1057, 'font-size':'32', 'text-anchor':'middle'});
  t.textContent = label;
  
  
  colorbarRoot.appendChild(t);
});
</script>
</body>
</html>
